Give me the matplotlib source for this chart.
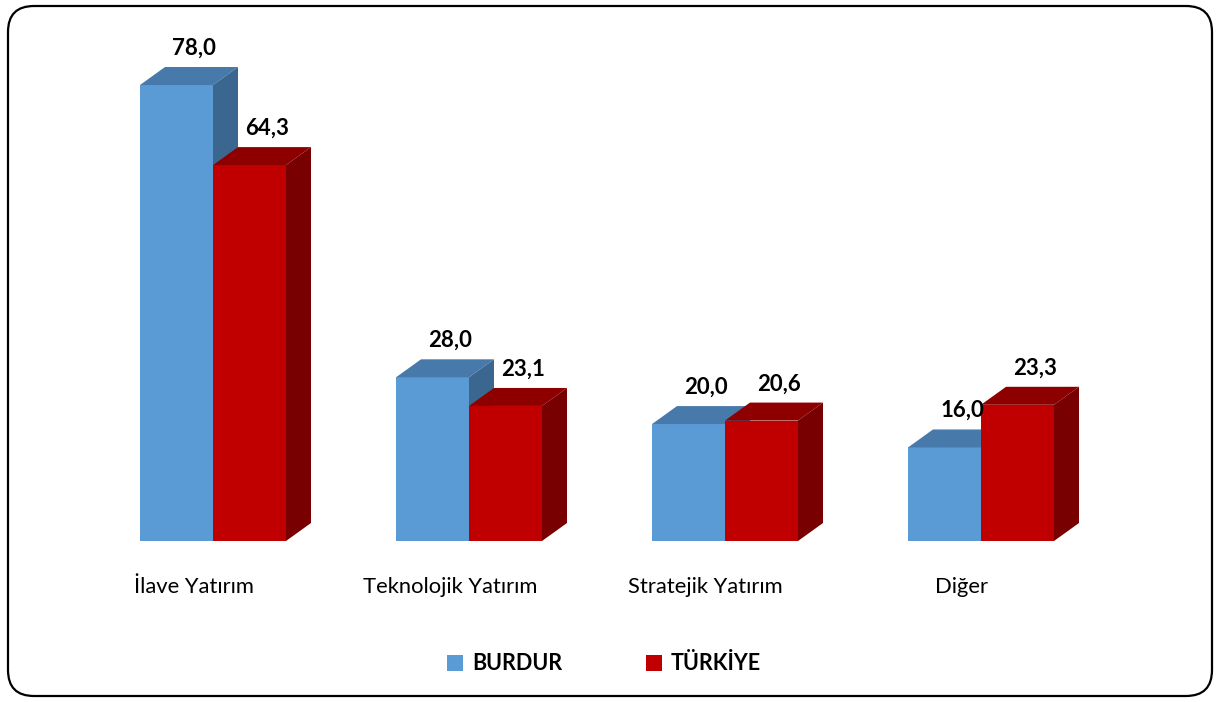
import matplotlib.pyplot as plt
from matplotlib.patches import Polygon, Patch, FancyBboxPatch

# data
categories = ['İlave Yatırım', 'Teknolojik Yatırım', 'Stratejik Yatırım', 'Diğer']
burdur = [78.0, 28.0, 20.0, 16.0]
turkiye = [64.3, 23.1, 20.6, 23.3]
series_names = ['BURDUR', 'TÜRKİYE']

plt.rcParams['font.family'] = ['Lato', 'DejaVu Sans']

W, H = 1217, 702
fig = plt.figure(figsize=(W / 100, H / 100), dpi=100)
ax = fig.add_axes([0, 0, 1, 1])
ax.set_xlim(-213 / 256, (W - 213) / 256)
px_per_unit = 5.846
ax.set_ylim(-(H - 541) / px_per_unit, 541 / px_per_unit)
ax.axis('off')

# rounded frame (inches)
frame = FancyBboxPatch((0.08, 0.06), 12.04, 6.90,
                       boxstyle='round,pad=0,rounding_size=0.26',
                       transform=fig.dpi_scale_trans, facecolor='none',
                       edgecolor='black', linewidth=1.6, zorder=10)
fig.patches.append(frame)

bw = 73 / 256
dx = 25 / 256
dy = 18 / px_per_unit

styles = [
    ('#5B9BD5', '#477AAA', '#3B6690'),
    ('#C00000', '#8E0000', '#780000'),
]


def draw_bar(x0, v, cols):
    front, top, side = cols
    ax.bar(x0, v, width=bw, align='edge', color=front, zorder=2)
    ax.add_patch(Polygon([(x0, v), (x0 + bw, v), (x0 + bw + dx, v + dy), (x0 + dx, v + dy)],
                         closed=True, facecolor=top, edgecolor='none', zorder=2))
    ax.add_patch(Polygon([(x0 + bw, 0), (x0 + bw, v), (x0 + bw + dx, v + dy), (x0 + bw + dx, dy)],
                         closed=True, facecolor=side, edgecolor='none', zorder=2))
    ax.annotate(f'{v:.1f}'.replace('.', ','), (x0 + bw / 2 + dx * 0.7, v + dy),
                xytext=(0, 6), textcoords='offset points', ha='center', va='bottom',
                fontsize=16, fontweight='bold', color='black', zorder=5)


for i in range(len(categories)):
    draw_bar(i - bw, burdur[i], styles[0])
    draw_bar(i, turkiye[i], styles[1])
    ax.text(i - 0.075, -7.9, categories[i], ha='center', va='center',
            fontsize=15.8, color='black')

handles = [Patch(facecolor=styles[0][0]), Patch(facecolor=styles[1][0])]
fig.legend(handles, series_names, loc='center', bbox_to_anchor=(604 / W, 1 - 664 / H),
           ncol=2, frameon=False, handlelength=0.75, handleheight=0.75,
           handletextpad=0.4, columnspacing=3.9,
           prop={'size': 15.5, 'weight': 'bold'})

fig.savefig('out.png', dpi=100)
